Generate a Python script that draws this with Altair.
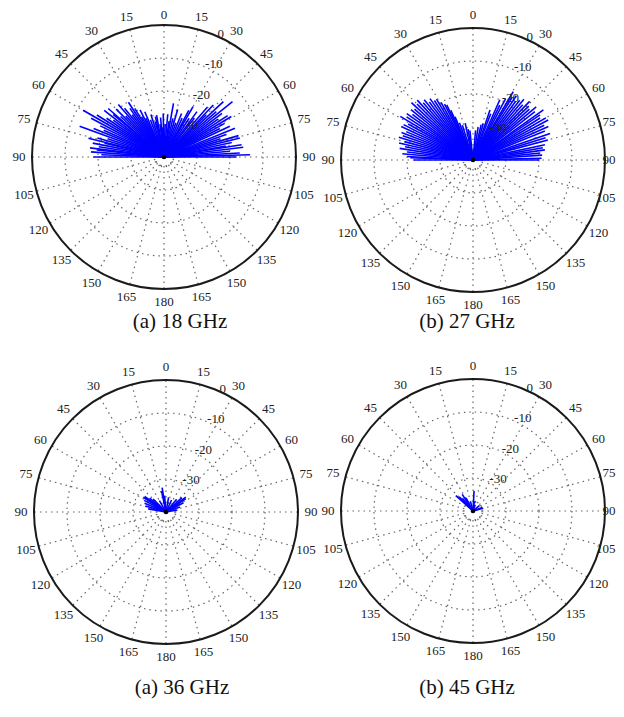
import math
import altair as alt
import pandas as pd

# ---------------- data ----------------
captions = ["(a) 18 GHz", "(b) 27 GHz", "(a) 36 GHz", "(b) 45 GHz"]

# angle in degrees clockwise from top (negative = left side), level in dB
p1_angle = [-90, -88, -86, -84, -83, -81, -79, -77, -76, -74, -72, -70, -68, -66, -64, -62,
            -60, -58, -56, -54, -52, -50, -49, -47, -45, -43, -41, -39, -37, -35, -33, -31,
            -29, -27, -25, -23, -20, -17, -14, -12, -10, -7, -5, -3, -1,
            2, 5, 8, 10, 13, 16, 19, 22, 25, 28, 30, 33, 36, 38, 41, 43.5, 45, 47, 49, 51,
            53, 55, 57, 59, 61, 63, 65, 68, 70, 72, 74, 76, 78, 80, 81, 83, 85, 87, 88.5, 90]
p1_db = [-18.6, -21, -17.8, -19.5, -17.4, -20, -18, -21.5, -16.4, -19, -22, -12.8, -17, -20, -18.5, -15,
         -11.7, -16, -19, -21, -17, -20, -17.6, -22, -19.5, -23, -18.9, -21, -24, -22, -20.2, -22.8,
         -26, -24, -27, -25.1, -28, -26.5, -29, -27.5, -27.1, -30, -28, -31, -26.8,
         -30, -27, -29, -23.5, -28, -25, -29, -25.8, -27, -24, -22.4, -26, -23, -25, -20, -18.3, -22, -15.4, -19, -13.3,
         -18, -20, -17, -16.2, -19, -21, -18, -16.8, -20, -22, -16.5, -16.3, -19, -21, -16.2, -15.8, -20, -17, -13.9, -18]

p2_angle = [-90, -88, -87, -85, -83, -81, -79, -77, -75, -73, -71, -69, -67, -65, -63, -61,
            -59, -57, -55, -53, -51, -49, -47, -45, -43, -41, -39, -37, -35, -33, -31, -29,
            -27, -25.5, -24, -22.5, -20, -17, -12, -9, -6,
            5, 9, 13, 15.7, 18.8, 21, 24, 26, 28, 30.5, 32, 34, 36, 38, 40, 42, 44, 46, 48, 50,
            52, 54.5, 56, 58, 60, 62, 64, 66, 68, 71, 73, 75, 78, 80, 82, 84, 86, 88.5, 90]
p2_db = [-22, -21, -20, -18.5, -20, -17.5, -19, -17, -18.5, -16.5, -17.5, -16.8, -18, -16, -16.4, -17.5,
         -14.3, -16, -15.5, -17, -15.8, -16.5, -14.5, -16, -15.2, -17, -16.5, -18, -17.3, -18.5, -18.5, -20,
         -21, -21.5, -23.5, -25.8, -28, -29, -28.6, -30.5, -31,
         -31, -30, -29, -28.5, -24, -25, -20, -21.5, -19, -16, -17.5, -16.5, -18, -17, -16, -17.5, -15.3, -16.5, -17, -15,
         -16.2, -13.8, -15.5, -16, -14.5, -14.2, -16, -15, -16.5, -15.3, -17, -16.5, -17.7, -18.5, -18, -19.5, -19, -19.2, -20]

p3_angle = [-80, -74, -68, -62, -57, -54, -50, -45, -30, -12, -9, -5, 10, 25, 40, 48, 53, 56, 62, 70, 80]
p3_db = [-34.5, -33.5, -33, -32.5, -31.8, -32, -33.5, -34.5, -36, -33.5, -32.5, -35,
         -35.5, -36, -35, -33.5, -32.5, -32.8, -34, -35.5, -36.5]

p4_angle = [-48, -44, -40, -33, -28, -15, 3, 8, 20, 50, 70, 75]
p4_db = [-33, -34, -35, -34, -35.5, -37, -33.9, -37, -38, -37.5, -37, -36.8]

ring_levels = [0, -10, -20, -30]
ring_texts = ["0", "-10", "-20", "-30"]
angle_ticks = list(range(0, 360, 15))

# ---------------- layout ----------------
W, H = 608, 701
X0, Y0 = 8, 8                      # page margin, data below is in page pixels
centers = [(164, 157), (473, 160), (166, 512), (473, 511)]
caption_pos = [(180, 322), (467, 322), (182, 688), (467, 688)]
R = 132.0
DB_MIN = -40.0
R_INNER = 9.0
R_LABEL = 145.0
SERIF = "Liberation Serif"
FS = 13


def rad(db):
    return (db - DB_MIN) / (0.0 - DB_MIN) * R


def polar(cx, cy, r, ang):
    a = math.radians(ang)
    return cx + r * math.sin(a), cy - r * math.cos(a)


series = [(p1_angle, p1_db), (p2_angle, p2_db), (p3_angle, p3_db), (p4_angle, p4_db)]

spikes, rings, radials, alabels, rlabels, dots, caps = [], [], [], [], [], [], []
for i, (cx, cy) in enumerate(centers):
    for ang, db in zip(*series[i]):
        tx, ty = polar(cx, cy, rad(db), ang)
        spikes.append(dict(x=cx, y=cy, x2=tx, y2=ty))
    for lvl in ring_levels[1:]:
        rings.append(dict(x=cx, y=cy, size=(2 * rad(lvl)) ** 2))
    rings.append(dict(x=cx, y=cy, size=(2 * R_INNER) ** 2))
    for ang in angle_ticks:
        ax1, ay1 = polar(cx, cy, R_INNER, ang)
        ax2, ay2 = polar(cx, cy, R, ang)
        radials.append(dict(x=ax1, y=ay1, x2=ax2, y2=ay2))
        t = str(ang if ang <= 180 else 360 - ang)
        lx, ly = polar(cx, cy, R_LABEL, ang)
        half = 0.25 * FS * len(t) + 0.5
        lx = min(lx, X0 + W - half)          # keep edge labels inside the page
        ly = max(ly, Y0 + FS / 2)
        alabels.append(dict(x=lx, y=ly, t=t))
    for lvl, txt in zip(ring_levels, ring_texts):
        lx, ly = polar(cx, cy, rad(lvl), 22)
        rlabels.append(dict(x=lx + 4, y=ly - 1, t=txt))
    dots.append(dict(x=cx, y=cy, size=(2 * R) ** 2))
    caps.append(dict(x=caption_pos[i][0], y=caption_pos[i][1], t=captions[i]))

xs = alt.Scale(domain=[X0, X0 + W])
ys = alt.Scale(domain=[Y0, Y0 + H], reverse=True)
X = lambda f: alt.X(f, type="quantitative", scale=xs, axis=None)
Y = lambda f: alt.Y(f, type="quantitative", scale=ys, axis=None)

dotted = dict(strokeDash=[1.5, 4], stroke="#666666", strokeWidth=1.2)

ring_layer = alt.Chart(pd.DataFrame(rings)).mark_point(
    shape="circle", filled=False, opacity=1, **dotted
).encode(x=X("x"), y=Y("y"), size=alt.Size("size:Q", scale=None, legend=None))

radial_layer = alt.Chart(pd.DataFrame(radials)).mark_rule(**dotted).encode(
    x=X("x"), y=Y("y"), x2="x2", y2="y2")

outer_layer = alt.Chart(pd.DataFrame(dots)).mark_point(
    shape="circle", filled=False, opacity=1, stroke="#1a1a1a", strokeWidth=2
).encode(x=X("x"), y=Y("y"), size=alt.Size("size:Q", scale=None, legend=None))

spike_layer = alt.Chart(pd.DataFrame(spikes)).mark_rule(
    color="#0000ff", strokeWidth=1.6
).encode(x=X("x"), y=Y("y"), x2="x2", y2="y2")

center_layer = alt.Chart(pd.DataFrame(centers, columns=["x", "y"])).mark_point(
    shape="circle", filled=True, color="black", opacity=1, size=22
).encode(x=X("x"), y=Y("y"))

alabel_layer = alt.Chart(pd.DataFrame(alabels)).mark_text(
    font=SERIF, fontSize=FS, color="#222222", align="center", baseline="middle"
).encode(x=X("x"), y=Y("y"), text="t:N")

rlabel_layer = alt.Chart(pd.DataFrame(rlabels)).mark_text(
    font=SERIF, fontSize=FS, color="#222222", align="left", baseline="middle"
).encode(x=X("x"), y=Y("y"), text="t:N")

cap_layer = alt.Chart(pd.DataFrame(caps)).mark_text(
    font=SERIF, fontSize=21, color="#111111", align="center", baseline="middle"
).encode(x=X("x"), y=Y("y"), text="t:N")

chart = alt.layer(
    ring_layer, radial_layer, outer_layer, spike_layer, center_layer,
    alabel_layer, rlabel_layer, cap_layer
).properties(
    width=W, height=H, padding=0, background="white",
    autosize=alt.AutoSizeParams(type="none")
).configure_view(stroke=None)

chart.save("out.html", embed_options={"renderer": "svg", "actions": False})
